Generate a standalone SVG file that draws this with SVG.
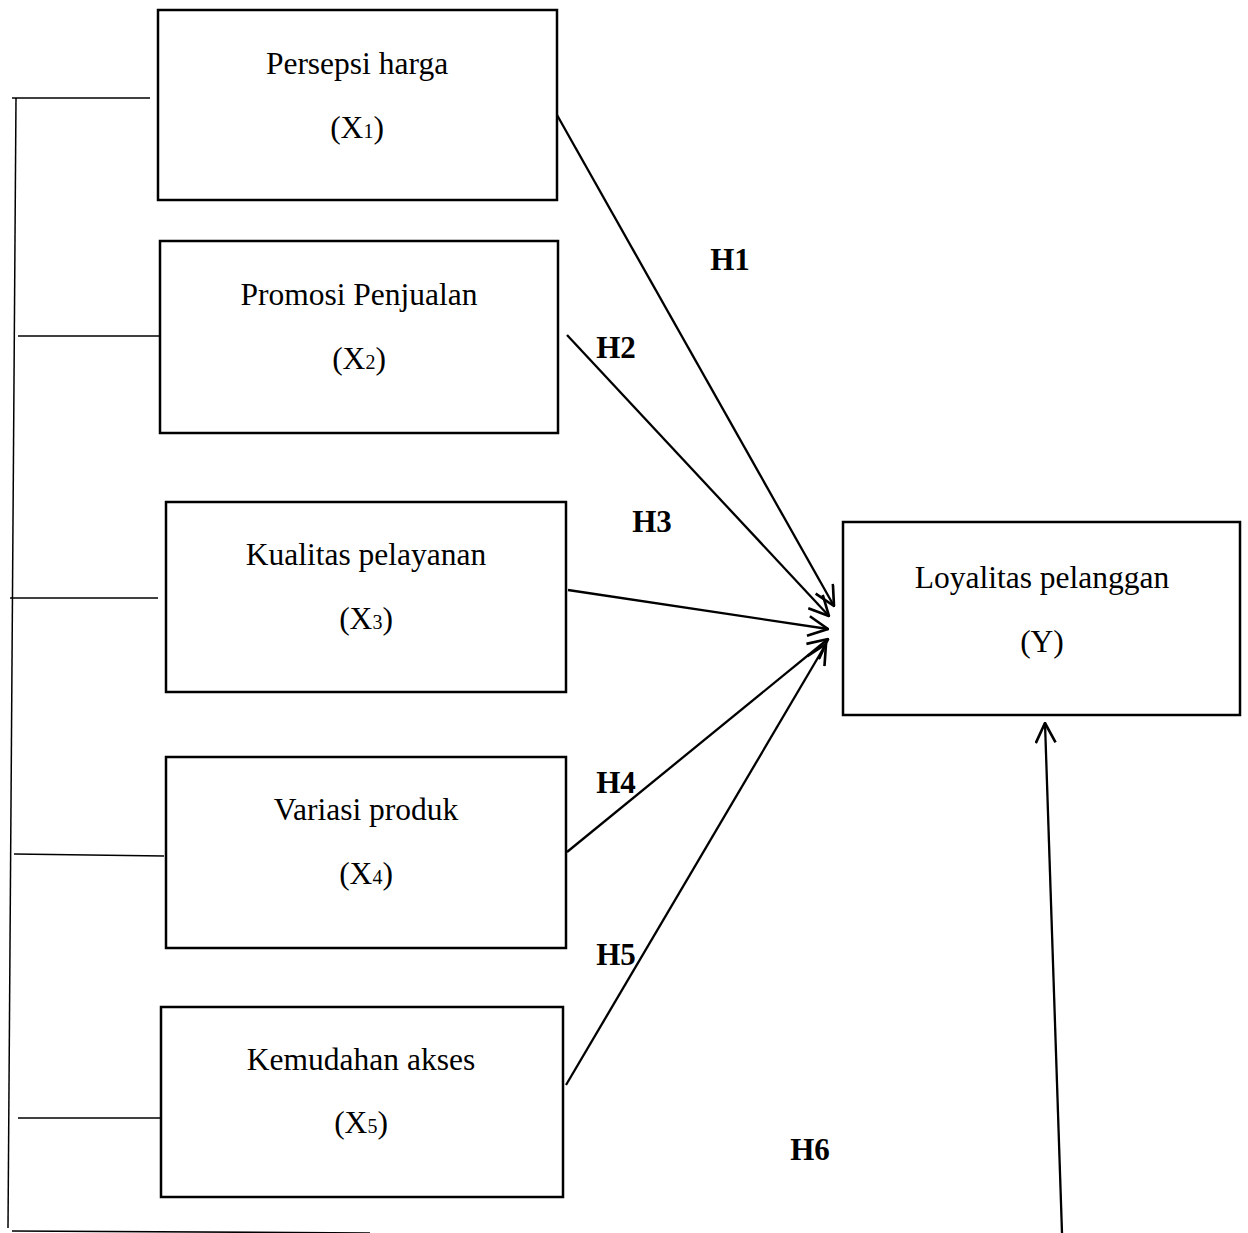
<svg xmlns="http://www.w3.org/2000/svg" width="1248" height="1233" viewBox="0 0 1248 1233">
<defs>
<style>
.box{fill:#fff;stroke:#000;stroke-width:2.5}
.t{font-family:"Liberation Serif","Times New Roman",serif;font-size:31.5px;fill:#000;text-anchor:middle}
.sub{font-size:20px}
.h{font-family:"Liberation Serif","Times New Roman",serif;font-size:31px;font-weight:bold;fill:#000;text-anchor:middle}
.ln{stroke:#000;stroke-width:2.3;fill:none}
.br{stroke:#000;stroke-width:1.5;fill:none}
</style>
<marker id="ah" viewBox="0 0 20 20" refX="19" refY="10" markerUnits="userSpaceOnUse" markerWidth="22" markerHeight="22" orient="auto">
<path d="M1,1 L19,10 L1,19" fill="none" stroke="#000" stroke-width="2.4"/>
</marker>
</defs>
<rect width="1248" height="1233" fill="#fff"/>
<g id="bracket">
<line class="br" x1="16" y1="98" x2="8" y2="1228"/>
<line class="br" x1="12" y1="98" x2="150" y2="98"/>
<line class="br" x1="18" y1="336" x2="160" y2="336"/>
<line class="br" x1="10" y1="598" x2="158" y2="598"/>
<line class="br" x1="14" y1="854" x2="164" y2="856"/>
<line class="br" x1="18" y1="1118" x2="160" y2="1118"/>
<line class="br" x1="12" y1="1231" x2="370" y2="1233"/>
</g>
<g id="connectors">
<line class="ln" x1="557" y1="115" x2="834" y2="606" marker-end="url(#ah)"/>
<line class="ln" x1="567" y1="335" x2="829" y2="616" marker-end="url(#ah)"/>
<line class="ln" x1="568" y1="590" x2="828" y2="629" marker-end="url(#ah)"/>
<line class="ln" x1="567" y1="852" x2="828" y2="639" marker-end="url(#ah)"/>
<line class="ln" x1="566" y1="1085" x2="826" y2="644" marker-end="url(#ah)"/>
<line class="ln" x1="1062" y1="1233" x2="1045" y2="723" marker-end="url(#ah)"/>
</g>
<g id="x1">
<rect class="box" x="158" y="10" width="399" height="190"/>
<text class="t" x="357" y="74">Persepsi harga</text>
<text class="t" x="357" y="138">(X<tspan class="sub">1</tspan>)</text>
</g>
<g id="x2">
<rect class="box" x="160" y="241" width="398" height="192"/>
<text class="t" x="359" y="305">Promosi Penjualan</text>
<text class="t" x="359" y="369">(X<tspan class="sub">2</tspan>)</text>
</g>
<g id="x3">
<rect class="box" x="166" y="502" width="400" height="190"/>
<text class="t" x="366" y="565">Kualitas pelayanan</text>
<text class="t" x="366" y="629">(X<tspan class="sub">3</tspan>)</text>
</g>
<g id="x4">
<rect class="box" x="166" y="757" width="400" height="191"/>
<text class="t" x="366" y="820">Variasi produk</text>
<text class="t" x="366" y="884">(X<tspan class="sub">4</tspan>)</text>
</g>
<g id="x5">
<rect class="box" x="161" y="1007" width="402" height="190"/>
<text class="t" x="361" y="1070">Kemudahan akses</text>
<text class="t" x="361" y="1133">(X<tspan class="sub">5</tspan>)</text>
</g>
<g id="y">
<rect class="box" x="843" y="522" width="397" height="193"/>
<text class="t" x="1042" y="588">Loyalitas pelanggan</text>
<text class="t" x="1042" y="652">(Y)</text>
</g>
<g id="labels">
<text class="h" x="730" y="270">H1</text>
<text class="h" x="616" y="358">H2</text>
<text class="h" x="652" y="532">H3</text>
<text class="h" x="616" y="793">H4</text>
<text class="h" x="616" y="965">H5</text>
<text class="h" x="810" y="1160">H6</text>
</g>
</svg>
